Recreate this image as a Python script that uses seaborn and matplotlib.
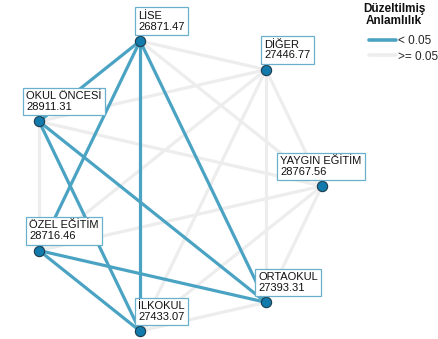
import numpy as np
import pandas as pd
import matplotlib
matplotlib.use("Agg")
import matplotlib.pyplot as plt
from matplotlib.lines import Line2D
import seaborn as sns

# Groups (counter-clockwise layout order starting at the right) and their mean ranks
groups = ["YAYGIN EĞİTİM", "DİĞER", "LİSE", "OKUL ÖNCESİ", "ÖZEL EĞİTİM", "İLKOKUL", "ORTAOKUL"]
mean_ranks = [28767.56, 27446.77, 26871.47, 28911.31, 28716.46, 27433.07, 27393.31]

# Pairwise comparisons with adjusted significance < 0.05
significant_pairs = [
    ("LİSE", "OKUL ÖNCESİ"),
    ("LİSE", "ÖZEL EĞİTİM"),
    ("LİSE", "İLKOKUL"),
    ("LİSE", "ORTAOKUL"),
    ("OKUL ÖNCESİ", "İLKOKUL"),
    ("OKUL ÖNCESİ", "ORTAOKUL"),
    ("ÖZEL EĞİTİM", "İLKOKUL"),
    ("ÖZEL EĞİTİM", "ORTAOKUL"),
]

legend_labels = ["< 0.05", ">= 0.05"]
legend_title = "Düzeltilmiş\nAnlamlılık"

# ---- layout: nodes on a circle (pixel space) ----
W, H = 439, 339
cx, cy, R = 173.2, 186.0, 148.8
n = len(groups)
ang = np.deg2rad(np.arange(n) * 360.0 / n)
pos = {g: (cx + R * np.cos(a), cy - R * np.sin(a)) for g, a in zip(groups, ang)}
label_dx = {"YAYGIN EĞİTİM": -45, "DİĞER": -5, "LİSE": -5, "OKUL ÖNCESİ": -16,
            "ÖZEL EĞİTİM": -13, "İLKOKUL": -5, "ORTAOKUL": -11}

sig_set = {frozenset(p) for p in significant_pairs}
rows = []
eid = 0
for i in range(n):
    for j in range(i + 1, n):
        a, b = groups[i], groups[j]
        sig = frozenset((a, b)) in sig_set
        for g in (a, b):
            rows.append({"edge": eid, "x": pos[g][0], "y": pos[g][1],
                         "sig": legend_labels[0] if sig else legend_labels[1]})
        eid += 1
edges = pd.DataFrame(rows)
nodes = pd.DataFrame({"group": groups,
                      "x": [pos[g][0] for g in groups],
                      "y": [pos[g][1] for g in groups],
                      "rank": mean_ranks})

sns.set_theme(style="white")
plt.rcParams["font.family"] = ["Liberation Sans", "DejaVu Sans"]

BLUE = "#4ba3c4"
GRAY = "#ededed"

fig = plt.figure(figsize=(W / 100, H / 100), dpi=100)
ax = fig.add_axes([0, 0, 1, 1])
ax.set_xlim(0, W)
ax.set_ylim(H, 0)
ax.axis("off")

for lab, col, z in [(legend_labels[1], GRAY, 1), (legend_labels[0], BLUE, 2)]:
    sub = edges[edges["sig"] == lab]
    sns.lineplot(data=sub, x="x", y="y", units="edge", estimator=None, sort=False,
                 color=col, linewidth=2.3, ax=ax, legend=False, zorder=z)

sns.scatterplot(data=nodes, x="x", y="y", s=55, color="#137bab",
                edgecolor="#1d3b4c", linewidth=0.8, ax=ax, legend=False, zorder=4)

pad_px = 3.3
for _, r in nodes.iterrows():
    ax.text(r["x"] + label_dx[r["group"]] + pad_px, r["y"] - 6 - pad_px,
            f"{r['group']}\n{r['rank']:.2f}", fontsize=8, color="#111111",
            ha="left", va="bottom", linespacing=1.1, zorder=5,
            bbox=dict(boxstyle="square,pad=0.3", fc="white", ec="#6ab0cc", lw=0.9))

# legend title and entries
ax.text(394, 3, legend_title, ha="center", va="top", fontsize=8.5,
        fontweight="bold", linespacing=1.05, color="#111111")
handles = [Line2D([], [], color=BLUE, lw=2.6), Line2D([], [], color=GRAY, lw=2.6)]
leg = ax.legend(handles, legend_labels, loc="upper left",
                bbox_to_anchor=(369 / W, 1 - 35 / H), frameon=False, fontsize=8.5,
                handlelength=2.3, handletextpad=0.15, labelspacing=0.3,
                borderaxespad=0, borderpad=0)

fig.savefig("out.png", dpi=100)
